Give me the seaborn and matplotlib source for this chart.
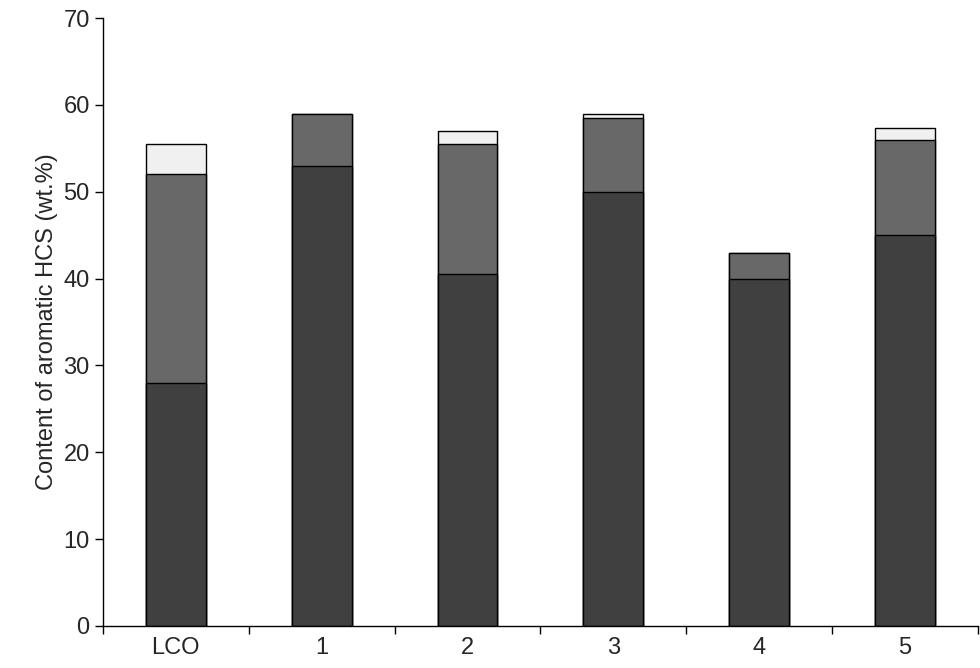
import matplotlib
matplotlib.use("Agg")
import matplotlib.pyplot as plt
import seaborn as sns
import numpy as np
import pandas as pd

categories = ["LCO", "1", "2", "3", "4", "5"]
dark = [28, 53, 40.5, 50, 40, 45]
mid = [24, 6, 15, 8.5, 3, 11]
light = [3.5, 0, 1.5, 0.5, 0, 1.3]

sns.set_theme(style="white")
plt.rcParams['font.family'] = ['Liberation Sans', 'DejaVu Sans']

fig = plt.figure(figsize=(9.8, 6.68), dpi=100)
ax = fig.add_axes([0.105, 0.063, 0.893, 0.91])

d = np.array(dark); m = np.array(mid); l = np.array(light)
layers = [(d + m + l, "#f0f0f0"), (d + m, "#686868"), (d, "#404040")]
for vals, col in layers:
    df = pd.DataFrame({"cat": categories, "v": vals})
    sns.barplot(data=df, x="cat", y="v", color=col, width=0.41,
                edgecolor="black", linewidth=1, saturation=1, ax=ax)

ax.set_xlim(-0.5, 5.5)
ax.set_ylim(0, 70)
ax.set_yticks(range(0, 71, 10))
ax.set_xlabel("")
ax.set_ylabel("Content of aromatic HCS (wt.%)", fontsize=17)
ax.tick_params(axis="y", labelsize=17, direction="out", length=6, width=1, left=True, color="black")
ax.tick_params(axis="x", which="major", labelsize=17, length=0, pad=8)
ax.set_xticks(np.arange(-0.5, 6, 1), minor=True)
ax.tick_params(axis="x", which="minor", direction="out", length=6, width=1, bottom=True, color="black")
for s in ["top", "right"]:
    ax.spines[s].set_visible(False)
for s in ["left", "bottom"]:
    ax.spines[s].set_color("black")
    ax.spines[s].set_linewidth(1)
fig.savefig("out.png", dpi=100)
